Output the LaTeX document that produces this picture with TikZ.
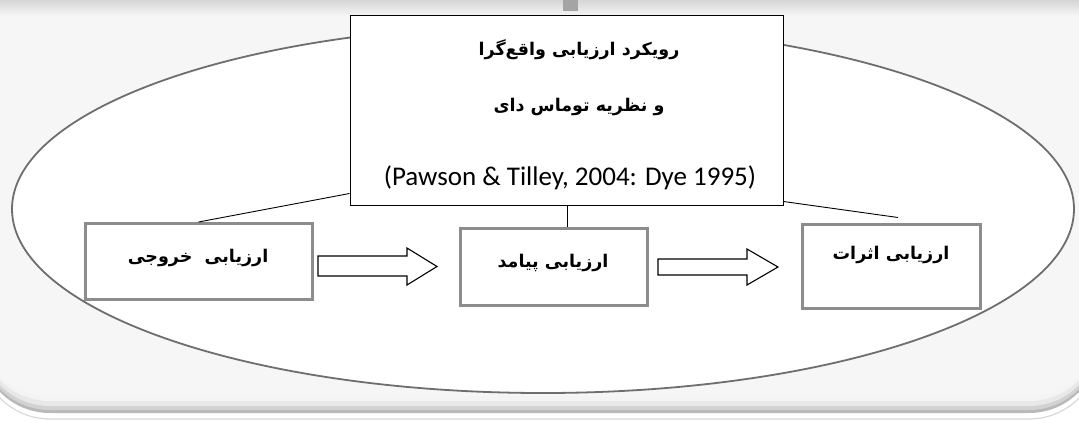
\documentclass[tikz,border=0pt]{standalone}
\usepackage{fontspec}
\setmainfont{Carlito}
\newfontfamily\fa[Script=Arabic]{DejaVu Sans}
\TeXXeTstate=1
\usetikzlibrary{calc}
\definecolor{panel}{HTML}{F6F6F6}
\definecolor{ellgray}{HTML}{6E6E6E}
\definecolor{boxgray}{HTML}{8C8C8C}
\definecolor{stub}{HTML}{A4A4A4}
\tikzset{
  evalbox/.style={draw=boxgray, line width=3pt, fill=white, inner sep=0pt},
  fatext/.style={font=\fa\bfseries\fontsize{17.5}{21}\selectfont, inner sep=0pt},
  blockarrow/.style={draw=black, line width=1.1pt, fill=white, line join=miter},
  link/.style={draw=black, line width=0.9pt}
}
\begin{document}
\begin{tikzpicture}[x=1pt,y=-1pt]
\useasboundingbox (0,0) rectangle (1079,424);
\fill[white] (0,0) rectangle (1079,424);
% panel with bottom shadow
\draw[gray!30, line width=1.2pt, rounded corners=70pt] (-20,-60) rectangle (1099,419);
\fill[gray!55, rounded corners=70pt] (-20,-60) rectangle (1099,413);
\fill[gray!35, rounded corners=70pt] (-20,-60) rectangle (1099,410);
\fill[gray!18, rounded corners=70pt] (-20,-60) rectangle (1099,406);
\fill[gray!9, rounded corners=70pt] (-20,-60) rectangle (1099,401);
\fill[panel, rounded corners=70pt] (-20,-60) rectangle (1099,396);
\shade[top color=gray!32, bottom color=panel] (0,0) rectangle (1079,16);
% ellipse
\draw[ellgray, line width=1.8pt, fill=white] (543,209) ellipse [x radius=531, y radius=184];
% stub above the top box
\fill[stub] (563,0) rectangle (578,11);
% top box
\node[draw=black, line width=1pt, fill=white, minimum width=433pt, minimum height=190pt, inner sep=0pt] (T) at (566.5,110) {};
\node[fatext] (t1) at (579,50) {\beginR رویکرد ارزیابی واقع^^^^200cگرا\endR};
\node[fatext] (t2) at (579,107) {\beginR و نظریه توماس دای\endR};
\node[font=\fontsize{27}{30}\selectfont, inner sep=0pt] (t3) at (570,178) {(Pawson \& Tilley, 2004: Dye 1995)};
% evaluation boxes
\node[evalbox, minimum width=227pt, minimum height=76pt] (L) at (198.5,261.5) {};
\node[evalbox, minimum width=187pt, minimum height=77pt] (M) at (553.5,266.5) {};
\node[evalbox, minimum width=178pt, minimum height=84pt] (R) at (891,266) {};
\node[fatext] (lt) at (198,258) {\beginR ارزیابی\hspace{0.35em} خروجی\endR};
\node[fatext] (mt) at (553,263) {\beginR ارزیابی پیامد\endR};
\node[fatext] (rt) at (891,255) {\beginR ارزیابی اثرات\endR};
% block arrows
\draw[blockarrow] (318,256) -- (407,256) -- (407,248) -- (437,266.5) -- (407,285) -- (407,276) -- (318,276) -- cycle;
\draw[blockarrow] (658,259) -- (747,259) -- (747,249) -- (778,267) -- (747,285) -- (747,275) -- (658,275) -- cycle;
% connectors
\coordinate (TL) at ($(T.south west)+(0,-12)$);
\coordinate (TR) at ($(T.south east)+(0,-4)$);
\coordinate (VC) at (567,205);
\coordinate (RE) at ($(R.north)+(7,-5)$);
\draw[link] (TL) -- (L.north);
\draw[link] (VC) -- (VC |- M.north);
\draw[link] (TR) -- (RE);
\end{tikzpicture}
\end{document}
